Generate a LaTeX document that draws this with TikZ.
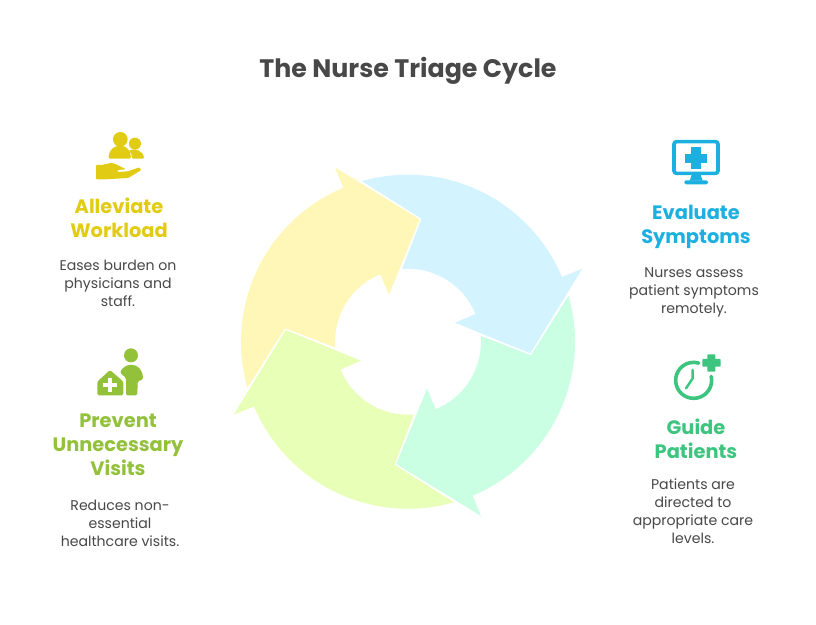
\documentclass[tikz,border=0pt]{standalone}
\usepackage{fontspec}
\setmainfont{Poppins}
\definecolor{cblue}{RGB}{211,244,255}
\definecolor{cyel}{RGB}{255,247,184}
\definecolor{clime}{RGB}{232,255,184}
\definecolor{cmint}{RGB}{202,255,228}
\definecolor{tblue}{RGB}{28,176,224}
\definecolor{tyel}{RGB}{226,204,19}
\definecolor{tlime}{RGB}{147,193,58}
\definecolor{tmint}{RGB}{61,197,127}
\definecolor{tgrey}{RGB}{72,72,72}
\tikzset{
  zoomed/.style={shift={#1},x=0.33333pt,y=-0.33333pt},
  titletext/.style={font=\fontsize{25.3}{30}\selectfont\bfseries,text=tgrey,inner sep=0pt},
  headtext/.style={font=\fontsize{19.4}{24}\selectfont\bfseries,align=center,inner sep=0pt},
  bodytext/.style={font=\fontsize{14.1}{18}\selectfont,text=tgrey,align=center,inner sep=0pt},
}
\newcommand{\arrowshape}[2]{%
  \fill[#1,rotate=#2] (22.8:167) arc[start angle=22.8,end angle=106,radius=167]
    -- (13.5,123) -- (94.6:73) arc[start angle=94.6,end angle=22.4,radius=73]
    -- (47,19) -- (122.3,-11.7) -- (174.3,73) -- cycle;}
\begin{document}
\begin{tikzpicture}[x=1pt,y=1pt]
\useasboundingbox (0,0) rectangle (816,624);
\fill[white] (0,0) rectangle (816,624);
% ring
\begin{scope}[shift={(408,282.3)}]
  \arrowshape{cblue}{0}
  \arrowshape{cyel}{90}
  \arrowshape{clime}{180}
  \arrowshape{cmint}{270}
\end{scope}
% texts
\node[titletext] (title) at (408,553) {The Nurse Triage Cycle};
\node[headtext,text=tyel] (h1) at (119,406.5) {Alleviate\\Workload};
\node[bodytext] (b1) at (118,341) {Eases burden on\\physicians and\\staff.};
\node[headtext,text=tlime] (h2) at (118,179) {Prevent\\Unnecessary\\Visits};
\node[bodytext] (b2) at (120,101) {Reduces non-\\essential\\healthcare visits.};
\node[headtext,text=tblue] (h3) at (696,397.5) {Evaluate\\Symptoms};
\node[bodytext] (b3) at (694,332) {Nurses assess\\patient symptoms\\remotely.};
\node[headtext,text=tmint] (h4) at (696,185) {Guide\\Patients};
\node[bodytext] (b4) at (693,113) {Patients are\\directed to\\appropriate care\\levels.};
% people icon
\begin{scope}[zoomed={(60,504)}]
  \fill[tyel] (181,58) circle (22);
  \fill[tyel] (225,71) circle (18);
  \fill[tyel,rounded corners=2pt] (145,116) .. controls (147,90) and (163,78) .. (180,78) .. controls (197,78) and (212,90) .. (213,116) -- cycle;
  \fill[tyel,rounded corners=1pt] (216,116) .. controls (216,104) and (212,96) .. (206,92) .. controls (225,84) and (250,92) .. (252,116) -- cycle;
  \fill[tyel,rounded corners=1pt] (108,135) -- (126,135) -- (148,130) .. controls (160,128) and (172,134) .. (182,140) -- (198,148) -- (172,150) -- (172,156) -- (204,154) -- (238,142) -- (244,150) -- (205,174) -- (135,178) -- (108,178) -- cycle;
\end{scope}
% person and clinic icon
\begin{scope}[zoomed={(60,284)}]
  \fill[tlime] (213,46) circle (21);
  \fill[tlime,rounded corners=1.5pt] (180,98) .. controls (186,84) and (200,75) .. (213,75) .. controls (232,75) and (248,88) .. (249,118) -- (233,124) -- (232,166) -- (198,166) -- (198,114) -- cycle;
  \fill[tlime,rounded corners=1.5pt] (112,125) -- (150,90) -- (190,125) -- (190,166) -- (112,166) -- cycle;
  \fill[white] (143,114) rectangle (157,156);
  \fill[white] (130,128) rectangle (170,142);
\end{scope}
% monitor icon
\begin{scope}[zoomed={(650,494)}]
  \draw[tblue,line width=3.6pt,rounded corners=2.5pt] (72,35) rectangle (204,130);
  \fill[tblue] (125,135) -- (152,135) -- (158,152) -- (119,152) -- cycle;
  \fill[tblue,rounded corners=1.5pt] (103,151) rectangle (174,163);
  \fill[tblue] (124,52) rectangle (152,117);
  \fill[tblue] (106,71) rectangle (170,99);
\end{scope}
% clock icon
\begin{scope}[zoomed={(650,279)}]
  \draw[tmint,line width=3.6pt,line cap=round] (131,106) ++(-12.8:54) arc[start angle=-12.8,end angle=286.3,radius=54];
  \draw[tmint,line width=2.4pt,line cap=round,line join=round] (128,75) -- (128,100) -- (108,130);
  \fill[tmint,rounded corners=0.7pt] (172,28) rectangle (196,80);
  \fill[tmint,rounded corners=0.7pt] (157,42) rectangle (212,65);
\end{scope}
\end{tikzpicture}
\end{document}
